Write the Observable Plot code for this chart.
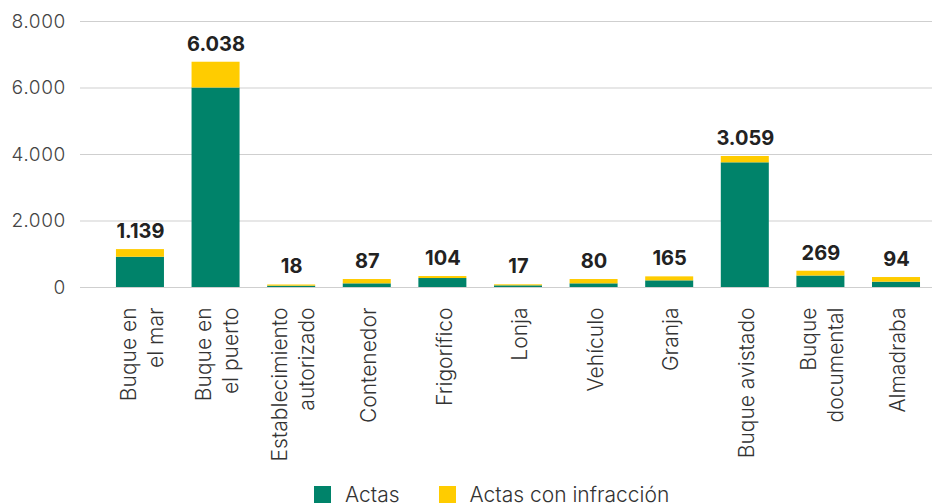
<!DOCTYPE html>
<html>
<head>
<meta charset="utf-8">
<script src="https://cdn.jsdelivr.net/npm/d3@7"></script>
<script src="https://cdn.jsdelivr.net/npm/@observablehq/plot@0.6"></script>
<style>
  html, body { margin: 0; padding: 0; background: #fff; }
  body { width: 932px; height: 503px; overflow: hidden; font-family: Inter, "Open Sans", sans-serif; }
  #legend { display: flex; align-items: flex-start; margin-left: 314px; padding-top: 8px; font-size: 21px; font-weight: 300; color: #333; }
  #legend .item { display: flex; align-items: flex-start; }
  #legend .sw { width: 17px; height: 17px; margin-right: 14px; }
  #legend .lab { line-height: 17px; }
</style>
</head>
<body>
<div id="chart"></div>
<div id="legend"></div>
<script>
const categories = ["Buque en el mar", "Buque en el puerto", "Establecimiento autorizado", "Contenedor", "Frigorífico", "Lonja", "Vehículo", "Granja", "Buque avistado", "Buque documental", "Almadraba"];
const tickLabels = ["Buque en\nel mar", "Buque en\nel puerto", "Establecimiento\nautorizado", "Contenedor", "Frigorífico", "Lonja", "Vehículo", "Granja", "Buque avistado", "Buque\ndocumental", "Almadraba"];
const actas = [910, 6000, 40, 110, 270, 50, 110, 200, 3750, 345, 160];
const actasInfraccion = [230, 775, 35, 130, 60, 30, 130, 120, 190, 145, 140];
const valueLabels = ["1.139", "6.038", "18", "87", "104", "17", "80", "165", "3.059", "269", "94"];
const series = ["Actas", "Actas con infracción"];
const seriesColors = ["#00836a", "#ffcc00"];
const yTicks = [0, 2000, 4000, 6000, 8000];

const rows = [];
categories.forEach((c, i) => {
  rows.push({cat: c, serie: series[0], value: actas[i]});
  rows.push({cat: c, serie: series[1], value: actasInfraccion[i]});
});
const totals = categories.map((c, i) => ({cat: c, total: actas[i] + actasInfraccion[i], label: valueLabels[i]}));

const esFormat = d3.formatLocale({decimal: ",", thousands: ".", grouping: [3], currency: ["", " €"]}).format(",");
const labelOf = new Map(categories.map((c, i) => [c, tickLabels[i]]));

const chart = Plot.plot({
  width: 932,
  height: 478,
  marginLeft: 80,
  marginRight: 0,
  marginTop: 21,
  marginBottom: 191,
  style: {fontFamily: "Inter, 'Open Sans', sans-serif", background: "#fff"},
  x: {domain: categories, paddingInner: 0.365, paddingOuter: 0.317, align: 0.75, round: false},
  y: {domain: [0, 8000]},
  color: {domain: series, range: seriesColors},
  marks: [
    Plot.gridY(yTicks, {stroke: "#cfcfcf", strokeOpacity: 1, strokeWidth: 1}),
    Plot.barY(rows, {x: "cat", y: "value", fill: "serie"}),
    Plot.text(totals, {x: "cat", y: "total", text: "label", dy: -18, fontSize: 20, fontWeight: 700, fill: "#222"}),
    Plot.axisY({ticks: yTicks, tickSize: 0, tickPadding: 15, tickFormat: esFormat, fontSize: 19, fontWeight: 300, color: "#444", label: null}),
    Plot.axisX({tickSize: 0, tickPadding: 20, tickRotate: -90, tickFormat: d => labelOf.get(d), fontSize: 21, fontWeight: 300, color: "#333", lineHeight: 1.3, label: null})
  ]
});
document.getElementById("chart").appendChild(chart);

const legend = document.getElementById("legend");
series.forEach((s, i) => {
  const item = document.createElement("div");
  item.className = "item";
  if (i > 0) item.style.marginLeft = "39px";
  const sw = document.createElement("div");
  sw.className = "sw";
  sw.style.background = seriesColors[i];
  const lab = document.createElement("span");
  lab.className = "lab";
  lab.textContent = s;
  item.appendChild(sw);
  item.appendChild(lab);
  legend.appendChild(item);
});
</script>
</body>
</html>
